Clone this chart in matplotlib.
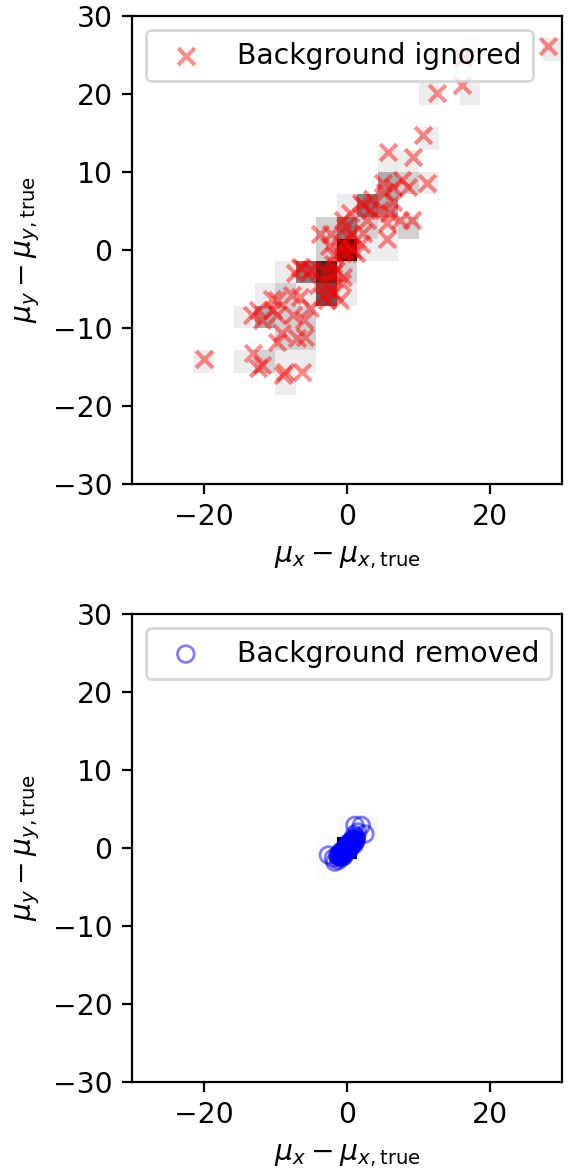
import matplotlib
matplotlib.use("Agg")
import matplotlib.pyplot as plt
import numpy as np

# ---- Data: background ignored (top) ----
ign_x = [28.0, 16.2, 16.0, 12.5, 10.6, 5.7, 9.2, 11.1, 5.0, 6.4, 7.7, 8.5, 5.3,
         6.4, 2.2, 3.2, 4.6, 5.8, 7.4, 9.0, 5.6, 2.8, 0.4, -0.5, -3.8, -2.2,
         2.2, 5.6, 2.0, 3.5, -0.3, 0.5, 0.1,
         -0.6, 0.4, 0.0, -1.0, 1.2, -0.6, 0.8,
         -1.8, -2.5, 2.0,
         -3.8, -2.8, -2.6, -1.6, -2.0, -2.0,
         -2.4, -3.3, -2.8, -4.0, -1.8,
         -6.5, -5.2, -6.3, -4.9, -7.2,
         -0.6, -0.7, -1.0,
         -6.5, -7.7, -9.7, -10.4,
         -12.4, -11.8, -10.3, -7.5, -9.8, -5.2, -6.0, -13.3,
         -9.1, -9.7, -7.0, -5.8,
         -20.0, -13.1, -11.8, -12.4, -8.6, -6.3, -8.9]
ign_y = [26.2, 24.6, 21.2, 20.1, 14.7, 12.6, 11.9, 8.6, 8.6, 8.1, 9.0, 8.1, 7.4,
         6.2, 5.8, 5.1, 5.1, 4.8, 3.8, 3.8, 3.5, 3.8, 4.7, 3.8, 2.1, 2.1,
         2.2, 1.4, 6.0, 6.5, 2.9, 2.0, 1.7,
         0.9, 0.3, -0.4, -0.3, -0.4, 0.0, 0.0,
         -0.6, 0.5, 0.8,
         -2.6, -2.9, -4.2, -2.6, -1.8, -3.0,
         -5.1, -6.0, -6.4, -4.5, -5.5,
         -2.2, -2.6, -2.3, -2.6, -2.9,
         -3.5, -4.2, -6.4,
         -6.0, -5.8, -6.4, -6.3,
         -7.7, -9.0, -7.7, -8.3, -8.3, -7.4, -9.0, -8.3,
         -10.6, -11.8, -11.3, -11.1,
         -14.0, -13.2, -14.7, -15.1, -15.6, -15.6, -16.0]

# ---- Data: background removed (bottom) ----
rem_x = [-1.2, -1.0, -0.9, -0.8, -0.7, -0.6, -0.5, -0.4, -0.3, -0.2, -0.1, 0.0,
         0.1, 0.2, 0.3, 0.4, 0.5, 0.6, 0.7, 0.8, 0.9, 1.0, 1.1, 1.2, -1.1, -0.9,
         -0.6, -0.4, -0.2, 0.0, 0.2, 0.3, 0.5, 0.6, 0.8, 1.0, 1.3, -1.3, -0.8,
         -0.5, -0.3, -0.1, 0.1, 0.4, 0.7, 0.9, 1.2, 0.0, 0.2, -0.2, 0.4, -0.4,
         0.6, -0.6, 0.8, -0.8, 1.0, -1.0, 0.1, -0.1,
         1.1, 2.0, 2.5, 1.5, 1.0, -2.6, -1.9, -1.7, -1.2, 1.3]
rem_y = [-1.1, -1.2, -0.8, -1.0, -0.6, -0.9, -0.4, -0.7, -0.2, -0.5, 0.0, -0.3,
         0.2, -0.1, 0.4, 0.1, 0.6, 0.3, 0.8, 0.5, 1.0, 0.7, 1.2, 0.9, -0.7, -1.3,
         -0.3, -1.0, 0.1, 0.3, 0.5, -0.3, 0.2, 0.9, 1.1, 0.4, 1.0, -0.9, -0.4,
         -1.1, -0.6, -0.3, 0.6, 0.7, 0.4, 0.7, 1.3, 0.0, 0.2, -0.2, 0.4, -0.4,
         0.6, -0.6, 0.8, -0.8, 1.0, -1.0, -0.1, 0.1,
         2.9, 2.9, 1.8, 2.05, 1.7, -0.9, -1.3, -1.8, -1.6, 1.5]

x_ticks = [-20, 0, 20]
y_ticks = [-30, -20, -10, 0, 10, 20, 30]
lims = [-30, 30]
nbins = 21

plt.rcParams["font.size"] = 10.2

W, H = 569, 1174
dpi = 200
fig = plt.figure(figsize=(W / dpi, H / dpi), dpi=dpi)

def axes_px(left, top, right, bottom):
    return fig.add_axes([left / W, 1 - bottom / H, (right - left) / W, (bottom - top) / H])

ax1 = axes_px(132, 16, 562, 484)
ax2 = axes_px(132, 614, 562, 1082)

for ax, xs, ys, kind in [(ax1, ign_x, ign_y, "ign"), (ax2, rem_x, rem_y, "rem")]:
    ax.hist2d(xs, ys, bins=nbins, range=[lims, lims], cmap="Greys")
    if kind == "ign":
        ax.scatter(xs, ys, marker="x", color="red", alpha=0.45, label="Background ignored")
    else:
        ax.scatter(xs, ys, marker="o", facecolors="none", edgecolors="blue", alpha=0.5,
                   label="Background removed")
    ax.set_xlim(lims)
    ax.set_ylim(lims)
    ax.set_xticks(x_ticks)
    ax.set_yticks(y_ticks)
    ax.set_xlabel(r"$\mu_x - \mu_{x,\mathrm{true}}$")
    ax.set_ylabel(r"$\mu_y - \mu_{y,\mathrm{true}}$")
    ax.legend(loc="upper left")

fig.savefig("out.png", dpi=dpi)
